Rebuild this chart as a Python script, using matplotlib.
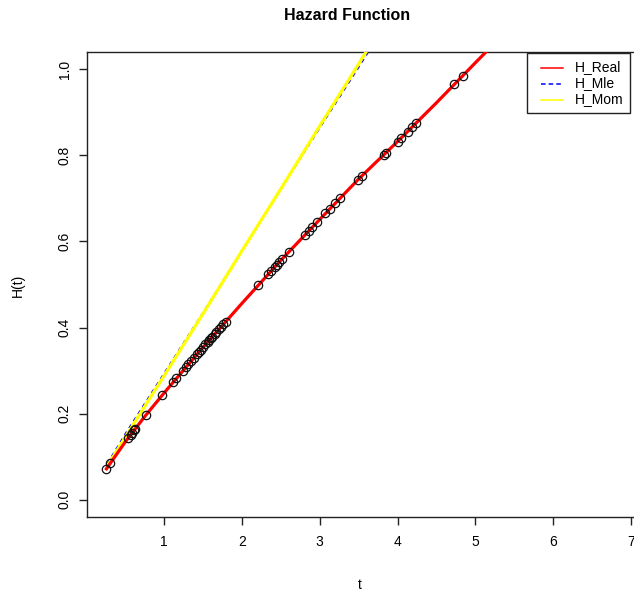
import numpy as np
import matplotlib
matplotlib.use("Agg")
import matplotlib.pyplot as plt
from matplotlib.lines import Line2D
from matplotlib.patches import Rectangle

plt.rcParams['font.family'] = ['Liberation Sans', 'DejaVu Sans']

# red curve (true cumulative hazard)
t_real = [0.26, 0.5, 0.75, 1.0, 1.5, 2.0, 2.5, 3.0, 3.5, 4.0, 4.5, 5.0, 5.3]
h_real = [0.072, 0.134, 0.193, 0.248, 0.354, 0.456, 0.556, 0.651, 0.745, 0.832, 0.922, 1.015, 1.07]

# MLE and moment estimates (blue dashed / yellow)
t_est = [0.27, 0.5, 1.0, 1.5, 2.0, 2.5, 3.0, 3.5, 3.8]
h_mle = [0.084, 0.153, 0.294, 0.435, 0.579, 0.721, 0.863, 1.004, 1.09]
h_mom = [0.078, 0.145, 0.288, 0.432, 0.578, 0.722, 0.868, 1.012, 1.10]

# observed sample times (circles) and their H values on the red curve
t_obs = [0.26, 0.31, 0.54, 0.57, 0.59, 0.61, 0.63, 0.77, 0.97, 1.12, 1.16,
         1.24, 1.28, 1.31, 1.35, 1.38, 1.42, 1.45, 1.47, 1.50, 1.53, 1.56,
         1.58, 1.60, 1.62, 1.65, 1.67, 1.70, 1.73, 1.76, 1.79, 2.21, 2.34,
         2.38, 2.42, 2.45, 2.48, 2.52, 2.60, 2.81, 2.86, 2.90, 2.97, 3.07,
         3.13, 3.20, 3.26, 3.49, 3.54, 3.82, 3.85, 4.00, 4.05, 4.13, 4.19,
         4.24, 4.73, 4.84]
h_obs = [0.072, 0.085, 0.144, 0.151, 0.156, 0.161, 0.165, 0.197, 0.244, 0.274, 0.283,
         0.300, 0.308, 0.315, 0.323, 0.329, 0.338, 0.344, 0.348, 0.354, 0.361, 0.367,
         0.371, 0.375, 0.379, 0.385, 0.389, 0.396, 0.402, 0.408, 0.414, 0.498, 0.524,
         0.532, 0.540, 0.546, 0.552, 0.559, 0.575, 0.616, 0.625, 0.633, 0.646, 0.665,
         0.676, 0.689, 0.700, 0.743, 0.751, 0.801, 0.806, 0.832, 0.840, 0.854, 0.865,
         0.874, 0.965, 0.985]

legend_labels = ['H_Real', 'H_Mle', 'H_Mom']
legend_colors = ['#FF0000', '#0000FF', '#FFFF00']
legend_styles = ['-', (0, (3, 2)), '-']

W, H = 634, 596
fig = plt.figure(figsize=(W / 100, H / 100), dpi=100)
fs = 10

# axes box in pixels: left 87, top 52, bottom 517; right edge runs past the image
ax = fig.add_axes([87 / W, (H - 517) / H, 565 / W, 465 / H])
ax.set_xlim(0.01, 7.27)
ax.set_ylim(-0.04, 1.04)

ax.plot(t_est, h_mle, color='#0000FF', lw=1.0, ls=(0, (3, 3)), zorder=2)
ax.plot(t_est, h_mom, color='#FFFF00', lw=2.3, zorder=3)
ax.plot(t_obs, h_obs, ls='none', marker='o', ms=6, mfc='none', mec='#111111',
        mew=0.9, zorder=4)
ax.plot(t_real, h_real, color='#FF0000', lw=2.3, zorder=3.5)

ax.set_xticks([1, 2, 3, 4, 5, 6, 7])
ax.set_yticks([0.0, 0.2, 0.4, 0.6, 0.8, 1.0])
ax.set_yticklabels(['0.0', '0.2', '0.4', '0.6', '0.8', '1.0'], rotation=90, va='center')
ax.tick_params(direction='out', length=6, width=1, labelsize=fs, color='#222222')
ax.tick_params(axis='x', pad=7)
ax.tick_params(axis='y', pad=5)
for s in ax.spines.values():
    s.set_linewidth(1.0)
    s.set_color('#222222')

fig.text(347 / W, 1 - 15 / H, 'Hazard Function', ha='center', va='center',
         fontsize=11.5, fontweight='bold')
fig.text(360 / W, 1 - 585 / H, 't', ha='center', va='center', fontsize=fs)
fig.text(18 / W, 1 - 285 / H, 'H(t)', ha='center', va='center', fontsize=fs,
         rotation=90)

# legend box drawn by hand in pixel positions (R style)
px = lambda x, y: (x / W, 1 - y / H)
fig.patches.append(Rectangle(px(527, 113), 103 / W, 60 / H, transform=fig.transFigure,
                             fill=True, facecolor='white', edgecolor='#222222',
                             lw=1.0, zorder=10))
for i, (lab, col, st) in enumerate(zip(legend_labels, legend_colors, legend_styles)):
    y = 67.5 + 16 * i
    x0, y0 = px(541, y)
    x1, _ = px(563, y)
    fig.add_artist(Line2D([x0, x1], [y0, y0], color=col, lw=1.1, ls=st,
                          transform=fig.transFigure, zorder=11))
    fig.text(575 / W, y0, lab, ha='left', va='center', fontsize=fs, zorder=12)

fig.savefig('out.png', dpi=100)
